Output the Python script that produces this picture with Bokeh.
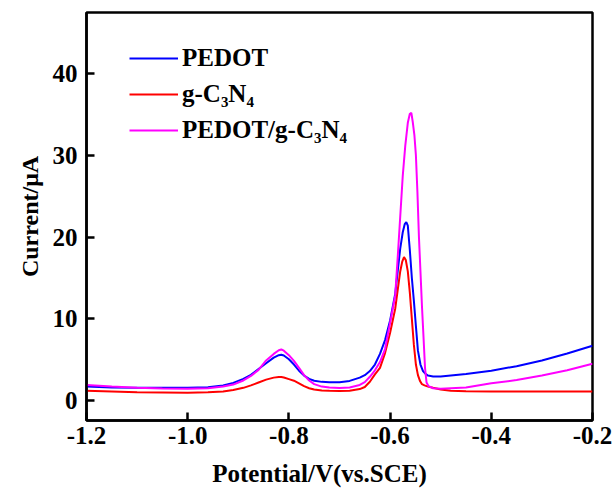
from bokeh.plotting import figure
from bokeh.models import Range1d, FixedTicker, Legend, LegendItem, Label
from bokeh.embed import file_html
from bokeh.resources import INLINE

# ---- data ----
pedot_x = [-1.20, -1.15, -1.10, -1.05, -1.00, -0.96, -0.93, -0.91, -0.89, -0.875, -0.86, -0.845,
           -0.83, -0.82, -0.815, -0.81, -0.80, -0.79, -0.78, -0.77, -0.76, -0.75, -0.735, -0.72,
           -0.70, -0.68, -0.66, -0.65, -0.64, -0.63, -0.62, -0.61, -0.60, -0.59, -0.585, -0.58,
           -0.575, -0.571, -0.568, -0.565, -0.561, -0.557, -0.553, -0.549, -0.545, -0.540, -0.535,
           -0.530, -0.525, -0.515, -0.50, -0.45, -0.40, -0.35, -0.30, -0.25, -0.20]
pedot_y = [1.70, 1.60, 1.55, 1.55, 1.55, 1.62, 1.85, 2.15, 2.65, 3.15, 3.85, 4.55,
           5.25, 5.55, 5.60, 5.50, 5.05, 4.40, 3.65, 3.05, 2.65, 2.42, 2.28, 2.24,
           2.24, 2.40, 2.80, 3.10, 3.60, 4.40, 5.70, 7.40, 9.80, 13.0, 15.8, 18.6,
           20.6, 21.6, 21.85, 21.4, 18.4, 15.0, 12.2, 9.1, 6.1, 4.4, 3.6,
           3.25, 3.05, 2.95, 2.95, 3.25, 3.65, 4.20, 4.90, 5.75, 6.70]

gcn_x = [-1.20, -1.15, -1.10, -1.05, -1.00, -0.96, -0.93, -0.91, -0.89, -0.875, -0.86, -0.845,
         -0.83, -0.82, -0.815, -0.81, -0.80, -0.79, -0.78, -0.77, -0.76, -0.75, -0.735, -0.72,
         -0.70, -0.68, -0.66, -0.65, -0.64, -0.63, -0.62, -0.61, -0.60, -0.59, -0.585, -0.58,
         -0.576, -0.5725, -0.569, -0.565, -0.561, -0.557, -0.553, -0.549, -0.545, -0.541, -0.537,
         -0.532, -0.525, -0.515, -0.50, -0.48, -0.45, -0.40, -0.35, -0.30, -0.25, -0.20]
gcn_y = [1.20, 1.10, 1.00, 0.97, 0.95, 1.00, 1.10, 1.28, 1.55, 1.85, 2.20, 2.55,
         2.80, 2.88, 2.88, 2.82, 2.62, 2.42, 2.10, 1.75, 1.50, 1.34, 1.22, 1.18,
         1.15, 1.20, 1.40, 1.65, 2.30, 3.20, 4.00, 5.80, 8.30, 11.2, 13.5, 15.8,
         17.0, 17.55, 17.2, 15.8, 13.2, 10.0, 6.8, 4.4, 3.1, 2.4, 2.0,
         1.85, 1.70, 1.55, 1.35, 1.20, 1.12, 1.10, 1.10, 1.10, 1.10, 1.10]

comp_x = [-1.20, -1.15, -1.10, -1.05, -1.00, -0.96, -0.93, -0.91, -0.89, -0.875, -0.86, -0.845,
          -0.83, -0.82, -0.815, -0.81, -0.80, -0.79, -0.78, -0.77, -0.76, -0.75, -0.735, -0.72,
          -0.70, -0.68, -0.66, -0.65, -0.64, -0.63, -0.62, -0.61, -0.60, -0.59, -0.585, -0.58,
          -0.575, -0.570, -0.565, -0.561, -0.558, -0.555, -0.552, -0.549, -0.546, -0.543, -0.540,
          -0.537, -0.534, -0.531, -0.528, -0.524, -0.515, -0.50, -0.45, -0.40, -0.35, -0.30,
          -0.25, -0.20]
comp_y = [1.90, 1.70, 1.55, 1.48, 1.45, 1.50, 1.70, 1.95, 2.45, 3.00, 3.75, 4.90,
          5.70, 6.15, 6.25, 6.10, 5.55, 4.85, 4.00, 3.10, 2.45, 2.00, 1.70, 1.58,
          1.52, 1.60, 1.90, 2.25, 2.90, 3.70, 4.70, 6.30, 9.50, 12.8, 17.5, 22.5,
          27.5, 31.2, 34.0, 35.1, 35.2, 34.0, 32.5, 30.0, 25.5, 20.0, 15.8,
          11.5, 7.8, 4.0, 2.2, 1.75, 1.50, 1.45, 1.60, 2.10, 2.50, 3.05,
          3.70, 4.50]

x_ticks = [-1.2, -1.0, -0.8, -0.6, -0.4, -0.2]
x_tick_labels = ["-1.2", "-1.0", "-0.8", "-0.6", "-0.4", "-0.2"]
y_ticks = [0, 10, 20, 30, 40]
y_tick_labels = ["0", "10", "20", "30", "40"]

series_names = ["PEDOT", "g-C\u2083N\u2084", "PEDOT/g-C\u2083N\u2084"]
series_colors = ["#0000FF", "#FF0000", "#FF00FF"]
x_title = "Potential/V(vs.SCE)"
y_title = "Current/\u03bcA"

FONT = "Liberation Serif"

p = figure(width=613, height=490, output_backend="svg", toolbar_location=None,
           x_range=Range1d(-1.2, -0.2), y_range=Range1d(-2.45, 47.5),
           min_border_left=86, min_border_right=21, min_border_top=12, min_border_bottom=70)
p.background_fill_color = "white"
p.border_fill_color = "white"
p.grid.visible = False
p.outline_line_color = "black"
p.outline_line_width = 2.5
p.outline_line_alpha = 1.0

r_pedot = p.line(pedot_x, pedot_y, line_color=series_colors[0], line_width=2)
r_gcn = p.line(gcn_x, gcn_y, line_color=series_colors[1], line_width=2)
r_comp = p.line(comp_x, comp_y, line_color=series_colors[2], line_width=2)

for ax in (p.xaxis[0], p.yaxis[0]):
    ax.axis_line_color = "black"
    ax.axis_line_width = 2.5
    ax.major_tick_line_color = "black"
    ax.major_tick_line_width = 2.5
    ax.major_tick_in = 8
    ax.major_tick_out = 0
    ax.minor_tick_line_color = None
    ax.major_label_text_font = FONT
    ax.major_label_text_font_style = "bold"
    ax.major_label_text_font_size = "25px"
    ax.major_label_text_color = "black"
    ax.axis_label_text_font = FONT
    ax.axis_label_text_font_style = "bold"
    ax.axis_label_text_font_size = "24px"
    ax.axis_label_text_color = "black"

p.xaxis.ticker = FixedTicker(ticks=x_ticks)
p.xaxis.major_label_overrides = dict(zip(x_ticks, x_tick_labels))
p.yaxis.ticker = FixedTicker(ticks=y_ticks)
p.yaxis.major_label_overrides = dict(zip(y_ticks, y_tick_labels))
p.yaxis.axis_label = y_title
p.xaxis.major_label_standoff = 6
p.yaxis.major_label_standoff = 9
p.yaxis.axis_label_standoff = 7

# x-axis title, in the panel below the axis, a little left of centre as in the reference
xt = Label(x=233, y=-13, x_units="screen", y_units="screen", text=x_title,
           text_align="center", text_baseline="bottom",
           text_font=FONT, text_font_style="bold", text_font_size="25px",
           text_color="black")
p.add_layout(xt, "below")

legend = Legend(items=[LegendItem(label=series_names[0], renderers=[r_pedot]),
                       LegendItem(label=series_names[1], renderers=[r_gcn]),
                       LegendItem(label=series_names[2], renderers=[r_comp])],
                location=(43, 276))
legend.margin = 0
legend.padding = 0
legend.spacing = 8
legend.glyph_width = 49
legend.label_standoff = 4
legend.label_text_font = FONT
legend.label_text_font_style = "bold"
legend.label_text_font_size = "25px"
legend.label_text_color = "black"
legend.border_line_color = None
legend.background_fill_alpha = 0
p.add_layout(legend)

open("out.html", "w").write(file_html(p, INLINE))
